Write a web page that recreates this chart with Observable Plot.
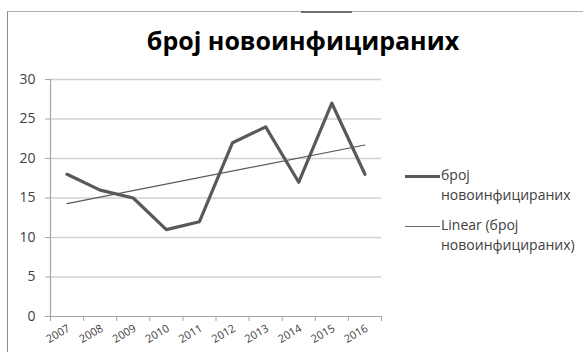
<!DOCTYPE html>
<html><head><meta charset="utf-8">
<script src="https://cdn.jsdelivr.net/npm/d3@7"></script>
<script src="https://cdn.jsdelivr.net/npm/@observablehq/plot@0.6"></script>
<style>
html,body{margin:0;padding:0;background:#fff;}
#wrap{position:relative;width:583px;height:352px;overflow:hidden;font-family:"Open Sans",sans-serif;color:#404040;}
#frame{position:absolute;left:7px;top:11px;width:600px;height:400px;border-left:1.5px solid #8c8c8c;border-top:1.5px solid #b0b0b0;}
#frameDark{position:absolute;left:301px;top:11px;width:51px;height:1.5px;background:#6e6e6e;}
#title{position:absolute;left:8px;width:590px;top:23px;text-align:center;font-weight:700;font-size:25px;color:#000;white-space:nowrap;}
#chart{position:absolute;left:0;top:0;}
.leg{position:absolute;font-size:14px;line-height:20px;color:#404040;white-space:nowrap;}
.sw{position:absolute;background:#595959;}
</style></head>
<body><div id="wrap">
<div id="frame"></div><div id="frameDark"></div>
<div id="chart"></div>
<div id="title"></div>
<div class="sw" style="left:405px;top:175px;width:35px;height:3px;"></div>
<div class="leg" id="leg1" style="left:441px;top:165px;"></div>
<div class="sw" style="left:405px;top:226px;width:35px;height:1px;background:#6a6a6a"></div>
<div class="leg" id="leg2" style="left:441px;top:215px;"></div>
</div>
<script>
const title = "број новоинфицираних";
const years = [2007, 2008, 2009, 2010, 2011, 2012, 2013, 2014, 2015, 2016];
const values = [18, 16, 15, 11, 12, 22, 24, 17, 27, 18];
const yTicks = [0, 5, 10, 15, 20, 25, 30];
const seriesName = ["број", "новоинфицираних"];
const trendName = ["Linear (број", "новоинфицираних)"];

const data = years.map((year, i) => ({year, value: values[i]}));
const bounds = years.map(y => y - 0.5).concat([years[years.length - 1] + 0.5]);

document.getElementById("title").textContent = title;
document.getElementById("leg1").innerHTML = seriesName.join("<br>");
document.getElementById("leg2").innerHTML = trendName.join("<br>");

const chart = Plot.plot({
  width: 583, height: 352,
  marginLeft: 50, marginRight: 202, marginTop: 79, marginBottom: 36,
  style: {fontFamily: "Open Sans, sans-serif", background: "transparent", color: "#404040"},
  x: {type: "linear", domain: [bounds[0], bounds[bounds.length - 1]]},
  y: {domain: [0, 30]},
  marks: [
    Plot.gridY(yTicks.slice(1), {stroke: "#d0d0d0", strokeOpacity: 1, strokeWidth: 1.5}),
    Plot.ruleY([0], {stroke: "#a6a6a6", strokeWidth: 1.2}),
    Plot.ruleX([bounds[0]], {stroke: "#a6a6a6", strokeWidth: 1.2}),
    Plot.axisX(bounds, {tickSize: 5, text: null, stroke: "#a6a6a6", label: null}),
    Plot.axisX(years, {tickSize: 0, tickRotate: -30, tickPadding: 11, dx: 2, fontSize: 11, tickFormat: d => String(d), label: null, fill: "#404040"}),
    Plot.axisY(yTicks, {tickSize: 5, tickPadding: 10, fontSize: 14, stroke: "#a6a6a6", label: null, fill: "#404040"}),
    Plot.linearRegressionY(data, {x: "year", y: "value", stroke: "#595959", strokeWidth: 1.2, ci: 0}),
    Plot.line(data, {x: "year", y: "value", stroke: "#595959", strokeWidth: 3.2})
  ]
});
document.getElementById("chart").appendChild(chart);
</script>
</body></html>
